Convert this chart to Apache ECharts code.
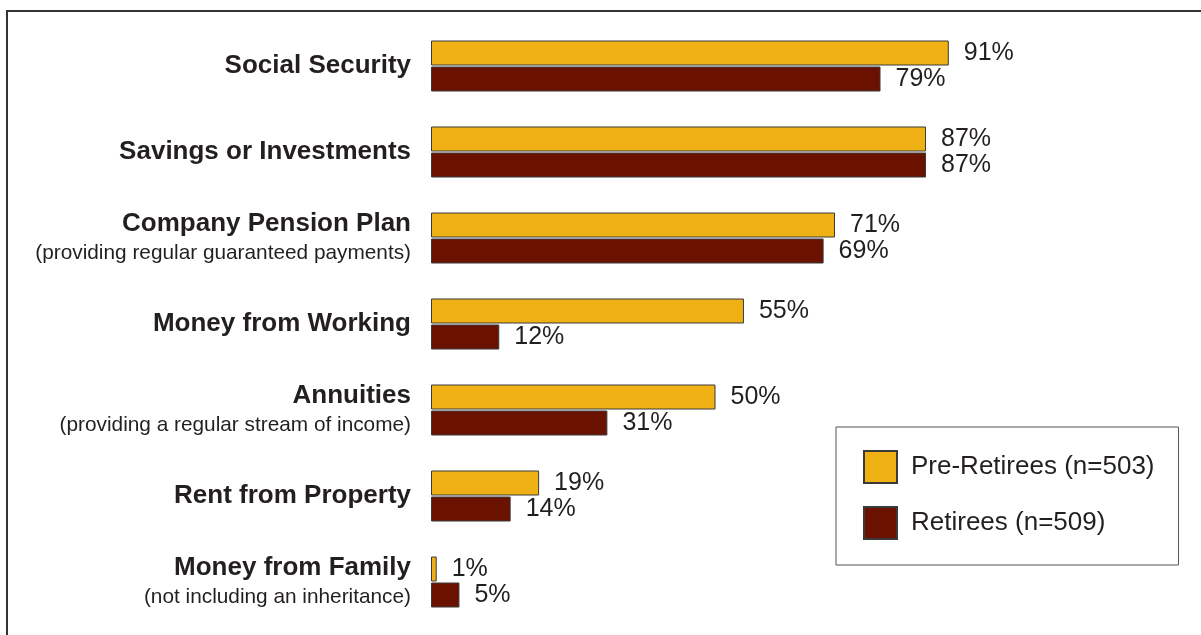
<!DOCTYPE html>
<html>
<head>
<meta charset="utf-8">
<script src="https://cdn.jsdelivr.net/npm/echarts@6/dist/echarts.min.js"></script>
<style>
html,body{margin:0;padding:0;background:#fff;}
#chart{width:1201px;height:635px;}
</style>
</head>
<body>
<div id="chart"></div>
<script>
const categories = [
  "Social Security",
  "Savings or Investments",
  "Company Pension Plan",
  "Money from Working",
  "Annuities",
  "Rent from Property",
  "Money from Family"
];
const subtitles = [
  "",
  "",
  "(providing regular guaranteed payments)",
  "",
  "(providing a regular stream of income)",
  "",
  "(not including an inheritance)"
];
const seriesNames = ["Pre-Retirees (n=503)", "Retirees (n=509)"];
const preRetirees = [91, 87, 71, 55, 50, 19, 1];
const retirees = [79, 87, 69, 12, 31, 14, 5];

const textColor = "#231f20";
const font = "'Liberation Sans', Arial, Helvetica, sans-serif";

const chart = echarts.init(document.getElementById('chart'), null, {renderer: 'canvas'});

function makeSeries(name, data, color) {
  return {
    name: name,
    type: 'bar',
    data: data,
    barWidth: 25,
    barGap: '4%',
    itemStyle: {color: color, borderColor: '#3a3a3a', borderWidth: 1},
    label: {
      show: true,
      position: 'right',
      distance: 15,
      formatter: '{c}%',
      color: textColor,
      fontFamily: font,
      fontSize: 25
    },
    emphasis: {disabled: true},
    animation: false
  };
}

chart.setOption({
  backgroundColor: '#ffffff',
  animation: false,
  textStyle: {fontFamily: font},
  graphic: [{
    type: 'rect',
    shape: {x: 7, y: 11, width: 1400, height: 800},
    style: {fill: 'none', stroke: '#333333', lineWidth: 2},
    silent: true
  }],
  grid: {left: 431, right: 201, top: 23, bottom: 10, containLabel: false},
  xAxis: {
    type: 'value',
    min: 0,
    max: 100,
    show: false
  },
  yAxis: {
    type: 'category',
    data: categories,
    inverse: true,
    axisLine: {show: false},
    axisTick: {show: false},
    splitLine: {show: false},
    axisLabel: {
      margin: 20,
      align: 'right',
      formatter: function (v, i) {
        const s = subtitles[i];
        return s ? '{b|' + v + '}\n{s|' + s + '}' : '{b|' + v + '}';
      },
      rich: {
        b: {fontFamily: font, fontSize: 26, fontWeight: 'bold', color: textColor, lineHeight: 30, align: 'right'},
        s: {fontFamily: font, fontSize: 20.8, color: textColor, lineHeight: 28, align: 'right'}
      }
    }
  },
  legend: {
    orient: 'vertical',
    left: 836,
    top: 427,
    padding: [23, 24, 25, 27],
    itemWidth: 33,
    itemHeight: 32,
    itemGap: 22,
    icon: 'rect',
    borderColor: '#555555',
    borderWidth: 1,
    selectedMode: false,
    textStyle: {fontFamily: font, fontSize: 26, color: textColor, padding: [0, 0, 0, 9]},
    data: seriesNames
  },
  series: [
    makeSeries(seriesNames[0], preRetirees, '#f0b114'),
    makeSeries(seriesNames[1], retirees, '#6b1100')
  ]
});
</script>
</body>
</html>
